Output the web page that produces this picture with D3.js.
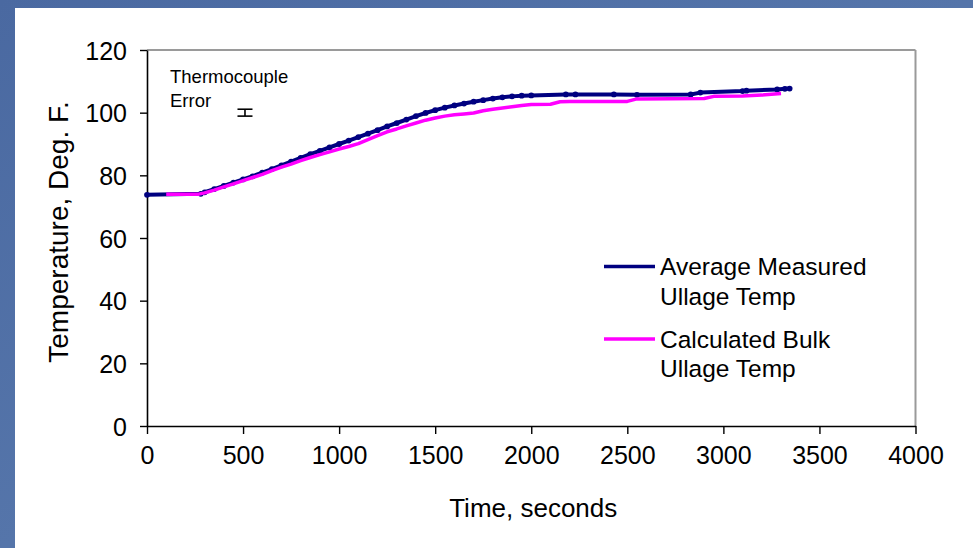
<!DOCTYPE html>
<html>
<head>
<meta charset="utf-8">
<script src="https://cdn.jsdelivr.net/npm/d3@7"></script>
<style>
  html, body { margin: 0; padding: 0; background: #4d6ca3; }
  svg { display: block; }
  text { font-family: "Liberation Sans", Arial, sans-serif; fill: #000; }
</style>
</head>
<body>
<svg id="chart" width="973" height="548"></svg>
<script>
// ---- data ----
const measuredTime = [0, 280, 300, 350, 400, 450, 500, 550, 600, 650, 700, 750, 800, 850, 900, 950, 1000, 1050, 1100, 1150, 1200, 1250, 1300, 1350, 1400, 1450, 1500, 1550, 1600, 1650, 1700, 1750, 1800, 1850, 1900, 1950, 2000, 2180, 2230, 2430, 2550, 2830, 2880, 3100, 3120, 3280, 3320, 3345];
const measuredTemp = [73.8, 74.1, 74.6, 75.6, 76.6, 77.7, 78.7, 79.7, 80.9, 82.0, 83.2, 84.4, 85.6, 86.8, 87.8, 88.9, 90.0, 91.1, 92.2, 93.3, 94.4, 95.6, 96.7, 97.8, 98.9, 99.9, 100.8, 101.6, 102.3, 102.9, 103.5, 104.0, 104.5, 104.9, 105.2, 105.4, 105.5, 105.8, 105.8, 105.8, 105.7, 105.8, 106.4, 106.9, 107.0, 107.4, 107.6, 107.7];

const calcTime = [100, 150, 200, 270, 300, 350, 400, 450, 500, 550, 600, 650, 700, 750, 800, 850, 900, 950, 1000, 1050, 1100, 1150, 1200, 1250, 1300, 1350, 1400, 1450, 1500, 1550, 1600, 1650, 1700, 1750, 1800, 1850, 1900, 1950, 2000, 2100, 2150, 2200, 2500, 2550, 2900, 2950, 3100, 3200, 3300];
const calcTemp = [74.0, 74.0, 74.0, 74.0, 74.4, 75.3, 76.3, 77.3, 78.3, 79.3, 80.3, 81.5, 82.6, 83.6, 84.7, 85.7, 86.6, 87.5, 88.4, 89.2, 90.1, 91.4, 92.7, 93.9, 94.8, 95.8, 96.7, 97.6, 98.3, 98.9, 99.3, 99.6, 99.9, 100.6, 101.1, 101.5, 101.9, 102.3, 102.6, 102.7, 103.5, 103.6, 103.6, 104.4, 104.5, 105.2, 105.3, 105.6, 106.1];

const xTickValues = [0, 500, 1000, 1500, 2000, 2500, 3000, 3500, 4000];
const yTickValues = [0, 20, 40, 60, 80, 100, 120];

const seriesNames = ["Average Measured|Ullage Temp", "Calculated Bulk|Ullage Temp"];
const seriesColors = ["#000080", "#ff00ff"];

const errorBarTime = [510];
const errorBarTemp = [100];
const errorBarHalf = [1.1];

// ---- layout ----
const svg = d3.select("#chart");
const W = 973, H = 548;
const plotL = 147, plotR = 915.5, plotT = 50, plotB = 426;

// background (slide)
const defs = svg.append("defs");
const grad = defs.append("linearGradient").attr("id", "bg").attr("x1", 0).attr("y1", 0).attr("x2", 1).attr("y2", 1);
grad.append("stop").attr("offset", "0%").attr("stop-color", "#4a69a1");
grad.append("stop").attr("offset", "50%").attr("stop-color", "#5575aa");
grad.append("stop").attr("offset", "100%").attr("stop-color", "#4b6aa3");
svg.append("rect").attr("width", W).attr("height", H).attr("fill", "url(#bg)");
svg.append("rect").attr("x", 15).attr("y", 8).attr("width", W - 15).attr("height", H - 8).attr("fill", "#ffffff");

const x = d3.scaleLinear().domain([0, 4000]).range([plotL, plotR]);
const y = d3.scaleLinear().domain([0, 120]).range([plotB, plotT]);

// plot frame (top & right gray)
svg.append("line").attr("x1", plotL).attr("x2", plotR).attr("y1", plotT).attr("y2", plotT)
  .attr("stroke", "#9a9a9a").attr("stroke-width", 2);
svg.append("line").attr("x1", plotR).attr("x2", plotR).attr("y1", plotT).attr("y2", plotB)
  .attr("stroke", "#9a9a9a").attr("stroke-width", 2);

// axes
const xAxis = d3.axisBottom(x).tickValues(xTickValues).tickSize(8).tickSizeOuter(0).tickPadding(12).tickFormat(d3.format("d"));
const yAxis = d3.axisLeft(y).tickValues(yTickValues).tickSize(7).tickSizeOuter(0).tickPadding(13).tickFormat(d3.format("d"));

const gx = svg.append("g").attr("transform", `translate(0,${plotB})`).call(xAxis);
const gy = svg.append("g").attr("transform", `translate(${plotL},0)`).call(yAxis);
[gx, gy].forEach(g => {
  g.select(".domain").attr("stroke", "#000").attr("stroke-width", 1.6);
  g.selectAll(".tick line").attr("stroke", "#000").attr("stroke-width", 1.4);
  g.selectAll(".tick text").attr("font-size", 25).attr("fill", "#000")
    .attr("font-family", "'Liberation Sans', Arial, sans-serif");
});
gx.selectAll(".tick text").attr("dy", "0.71em");
gy.selectAll(".tick text").attr("dy", "0.36em");

// axis titles
svg.append("text").attr("x", (plotL + plotR) / 2 + 2).attr("y", 517)
  .attr("text-anchor", "middle").attr("font-size", 26).text("Time, seconds");
svg.append("text").attr("transform", `translate(68,${(plotT + plotB) / 2 - 6}) rotate(-90)`)
  .attr("text-anchor", "middle").attr("font-size", 28).text("Temperature, Deg. F.");

// series
const measured = measuredTime.map((t, i) => ({ t, v: measuredTemp[i] }));
const calc = calcTime.map((t, i) => ({ t, v: calcTemp[i] }));
const line = d3.line().x(d => x(d.t)).y(d => y(d.v));

svg.append("path").datum(measured).attr("d", line).attr("fill", "none")
  .attr("stroke", seriesColors[0]).attr("stroke-width", 4).attr("stroke-linejoin", "round");
svg.append("g").selectAll("path").data(measured).join("path")
  .attr("transform", d => `translate(${x(d.t)},${y(d.v)})`)
  .attr("d", d3.symbol(d3.symbolCircle, 26))
  .attr("fill", seriesColors[0]);
svg.append("path").datum(calc).attr("d", line).attr("fill", "none")
  .attr("stroke", seriesColors[1]).attr("stroke-width", 3.5).attr("stroke-linejoin", "round");

// thermocouple error bar + label
svg.append("text").attr("x", 170).attr("y", 83).attr("font-size", 18.5).text("Thermocouple");
svg.append("text").attr("x", 170).attr("y", 107).attr("font-size", 18.5).text("Error");
const eb = svg.append("g").attr("stroke", "#000").attr("stroke-width", 1.6);
errorBarTime.forEach((t, i) => {
  const cx = x(t), y1 = y(errorBarTemp[i] + errorBarHalf[i]), y2 = y(errorBarTemp[i] - errorBarHalf[i]);
  eb.append("line").attr("x1", cx).attr("x2", cx).attr("y1", y1).attr("y2", y2);
  eb.append("line").attr("x1", cx - 7.5).attr("x2", cx + 7.5).attr("y1", y1).attr("y2", y1);
  eb.append("line").attr("x1", cx - 7.5).attr("x2", cx + 7.5).attr("y1", y2).attr("y2", y2);
});

// legend
const legendY = [266.5, 339];
seriesNames.forEach((name, i) => {
  const g = svg.append("g");
  g.append("line").attr("x1", 604).attr("x2", 655).attr("y1", legendY[i]).attr("y2", legendY[i])
    .attr("stroke", seriesColors[i]).attr("stroke-width", 3.5);
  name.split("|").forEach((s, j) => {
    g.append("text").attr("x", 660).attr("y", legendY[i] + 8.5 + j * 29.5)
      .attr("font-size", 24.5).text(s);
  });
});
</script>
</body>
</html>
